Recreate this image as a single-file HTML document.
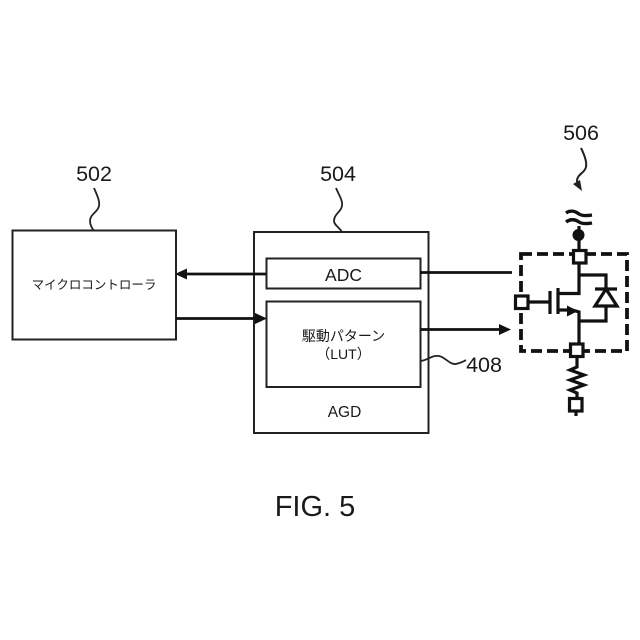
<!DOCTYPE html>
<html>
<head>
<meta charset="utf-8">
<style>
html,body{margin:0;padding:0;background:#fff;width:640px;height:640px;overflow:hidden}
svg{display:block}
text{font-family:"Liberation Sans","Noto Sans CJK JP",sans-serif;fill:#1a1a1a}
</style>
</head>
<body>
<svg width="640" height="640" viewBox="0 0 640 640" xmlns="http://www.w3.org/2000/svg">
<rect width="640" height="640" fill="#fff"/>
<g fill="none" stroke="#222" stroke-width="2">
  <rect x="12.5" y="230.5" width="163.500" height="109"/>
  <rect x="254" y="232" width="174.500" height="201"/>
  <rect x="266.500" y="258.500" width="154" height="30"/>
  <rect x="266.500" y="301.500" width="154" height="85.500"/>
</g>
<g fill="none" stroke="#222" stroke-width="1.800">
  <path d="M94 188 C97 195 100 201 99 206 C98 212 90 214 90 221 C90 225 92 228 94 231"/>
  <path d="M336 188 C339 195 343 201 342 206 C341 212 334 214 334 221 C334 225 340 228 342 232"/>
  <path d="M421 361 C428 360 432 355 439 356 C445 357 450 365 456 364 C460 363 463 362 466 360"/>
  <path d="M581 148 C585 156 587 162 586 167 C585 173 577 174 577 181 L578 186" stroke-width="2"/>
</g>
<path d="M573 184 L580 180 L582 191 Z" fill="#222"/>
<g stroke="#111" stroke-width="2.800" fill="none">
  <path d="M266 274 H186"/>
  <path d="M176 318.500 H257"/>
  <path d="M420 272.500 H512"/>
  <path d="M420 329.500 H500"/>
</g>
<g fill="#111">
  <path d="M175 274 L187 268.500 V279.500 Z"/>
  <path d="M267 318.500 L255 313 V324 Z"/>
  <path d="M511 329.500 L499 324 V335 Z"/>
</g>
<rect x="521" y="254" width="106" height="97" fill="none" stroke="#111" stroke-width="3.800" stroke-dasharray="11 5"/>
<g fill="none" stroke="#111" stroke-width="3.200">
  <path d="M579 240 V250 M579 262 V293.500 H558 M579 275 H606 V289 M606 306 V321 H579 M579 321 V344 M559 310 H572 L579 312 V321"/>
  <path d="M528 302 H549"/>
  <path d="M550 291 V314"/>
  <path d="M558 288 V314"/>
  <path d="M595 289 H617"/>
  <path d="M577 356 V367 L570 370 L584 375 L570 380 L584 385 L570 390 L577 393 V398 M576 411 V416"/>
  <path d="M566 213 C570 210 575 211 579 214 C582 216 586 216 592 215 M566 222 C570 219 575 219 579 222 C582 224 586 224 592 223" stroke-width="3.400"/>
  <path d="M579 226 V240"/>
</g>
<path d="M606 289 L595 306 H617 Z" fill="#fff" stroke="#111" stroke-width="3.200"/>
<path d="M578 311 L567 305.500 V316.500 Z" fill="#111"/>
<circle cx="578.500" cy="235" r="6" fill="#111"/>
<g fill="#fff" stroke="#111" stroke-width="3.200">
  <rect x="573.500" y="250.500" width="12.500" height="12.500"/>
  <rect x="515.500" y="296" width="12.500" height="12.500"/>
  <rect x="570.500" y="344" width="12.500" height="12.500"/>
  <rect x="569.500" y="398.500" width="12.500" height="12.500"/>
</g>
<text x="94" y="181" font-size="21.500" text-anchor="middle">502</text>
<text x="338" y="181" font-size="21.500" text-anchor="middle">504</text>
<text x="581" y="140" font-size="21.500" text-anchor="middle">506</text>
<text x="484" y="372" font-size="21.500" text-anchor="middle">408</text>
<text x="343.500" y="281" font-size="17.500" text-anchor="middle">ADC</text>
<text x="344.500" y="417" font-size="15.500" text-anchor="middle">AGD</text>
<text x="94" y="289" font-size="12.500" text-anchor="middle">マイクロコントローラ</text>
<text x="343.500" y="341" font-size="14" text-anchor="middle">駆動パターン</text>
<text x="343.500" y="359" font-size="14" text-anchor="middle">（LUT）</text>
<text x="315" y="516" font-size="29" text-anchor="middle">FIG. 5</text>
</svg>
</body>
</html>
